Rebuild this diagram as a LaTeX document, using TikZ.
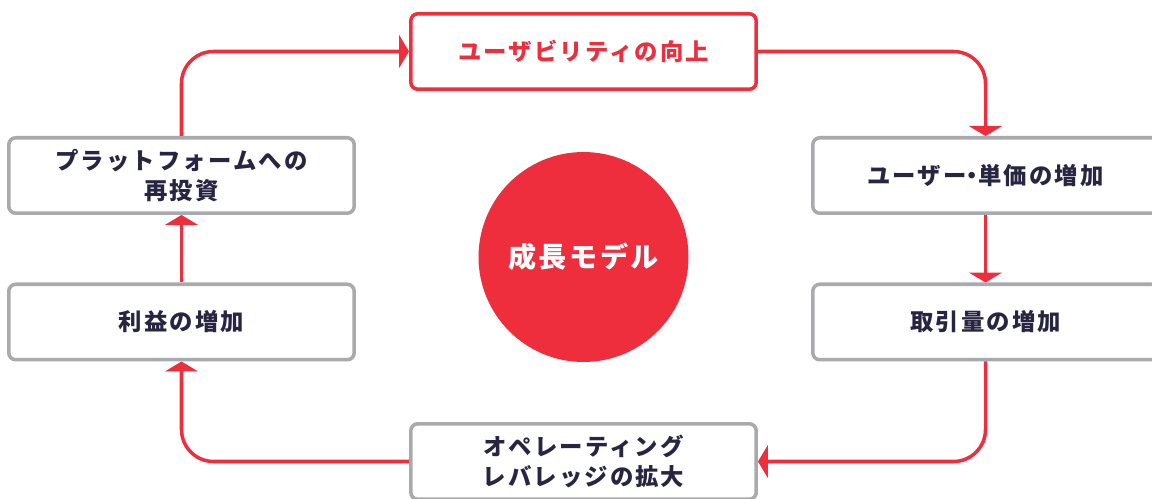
\documentclass[tikz,border=0pt]{standalone}
\usepackage{fontspec}
\setmainfont{Noto Sans CJK JP}[LetterSpace=9]
\usetikzlibrary{arrows.meta}
\definecolor{brandred}{HTML}{EE2D3D}
\definecolor{boxgray}{HTML}{A9AAAD}
\definecolor{ink}{HTML}{272642}

\tikzset{
  stepbox/.style={draw=boxgray, line width=2pt, rounded corners=0.14cm,
    minimum width=6.91cm, minimum height=1.51cm, align=center, text=ink,
    font=\fontsize{13.3pt}{17pt}\selectfont\bfseries},
  keybox/.style={stepbox, draw=brandred, text=brandred},
  hub/.style={circle, fill=brandred, minimum size=4.2cm, text=white,
    font=\fontsize{16pt}{18pt}\selectfont\bfseries},
  flow/.style={draw=brandred, line width=2pt, rounded corners=0.64cm,
    -{Triangle[width=0.66cm,length=0.2cm]}}
}
\newcommand\middot{{\addfontfeature{RawFeature=+palt}・}}

\begin{document}
\begin{tikzpicture}[x=0.02cm,y=-0.02cm]
  \useasboundingbox (0,0) rectangle (1152,499);
  % boxes
  \node[keybox] (usability) at (583.5,51.5) {ユーザビリティの向上};
  \node[stepbox] (users) at (985.5,175.5) {ユーザー\middot 単価の増加};
  \node[stepbox] (volume) at (985.5,322) {取引量の増加};
  \node[stepbox] (leverage) at (583.5,461.5) {オペレーティング\\レバレッジの拡大};
  \node[stepbox] (profit) at (181.5,322) {利益の増加};
  \node[stepbox] (reinvest) at (181.5,175.5) {プラットフォームへの\\再投資};
  \node[hub] (model) at (583.5,257) {成長モデル};
  % cycle
  \draw[flow] (usability.east) -| (users.north);
  \draw[flow] (users.south) -- (volume.north);
  \draw[flow] (volume.south) |- (leverage.east);
  \draw[flow] (leverage.west) -| (profit.south);
  \draw[flow] (profit.north) -- (reinvest.south);
  \draw[flow] (reinvest.north) |- (usability.west);
\end{tikzpicture}
\end{document}
